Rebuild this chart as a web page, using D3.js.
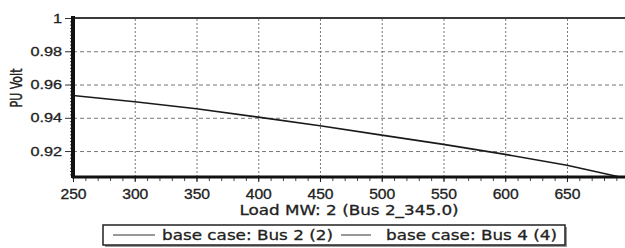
<!DOCTYPE html>
<html>
<head>
<meta charset="utf-8">
<script src="https://cdn.jsdelivr.net/npm/d3@7"></script>
<style>
  body { margin: 0; background: #fff; }
  svg { display: block; font-family: "DejaVu Sans", sans-serif; }
</style>
</head>
<body>
<div class="pv-chart"></div>
<script>
// load (MW) at bus 2 and per-unit voltages
var loadMW = [250, 300, 350, 400, 450, 500, 550, 600, 650, 692];
var bus2Volt = [0.9534, 0.9496, 0.9454, 0.9404, 0.9352, 0.9296, 0.9240, 0.9180, 0.9115, 0.9045];
var bus4Volt = [1, 1, 1, 1, 1, 1, 1, 1, 1, 1];
var seriesNames = ["base case: Bus 2 (2)", "base case: Bus 4 (4)"];
var xTicks = [250, 300, 350, 400, 450, 500, 550, 600, 650];
var yTicks = [0.92, 0.94, 0.96, 0.98, 1];

var width = 625, height = 248;
var margin = { top: 18, right: 0, bottom: 71, left: 73 };
var plotH = height - margin.top - margin.bottom;

var svg = d3.select(".pv-chart").append("svg")
    .attr("width", width)
    .attr("height", height);

var x = d3.scaleLinear().domain([250, 697]).range([margin.left, width - margin.right]);
var y = d3.scaleLinear().domain([0.9044, 1.0]).range([height - margin.bottom, margin.top]);

var stretch = 1.2;  // the original text looks wider than it is tall

// grid
svg.append("g")
    .attr("transform", "translate(0," + (height - margin.bottom) + ")")
    .call(d3.axisBottom(x).tickValues(xTicks.slice(1)).tickSize(-plotH).tickFormat(""))
    .call(function(g) { g.select(".domain").remove(); })
    .selectAll("line")
    .attr("stroke", "#777")
    .attr("stroke-dasharray", "2,2");

svg.append("g")
    .attr("transform", "translate(" + margin.left + ",0)")
    .call(d3.axisLeft(y).tickValues(yTicks.slice(0, 4)).tickSize(-(width - margin.left)).tickFormat(""))
    .call(function(g) { g.select(".domain").remove(); })
    .selectAll("line")
    .attr("stroke", "#777")
    .attr("stroke-dasharray", "4,3");

// minor ticks
svg.append("g")
    .attr("transform", "translate(0," + (height - margin.bottom) + ")")
    .call(d3.axisBottom(x).tickValues(d3.range(250, 697, 10)).tickSize(4).tickFormat(""))
    .call(function(g) { g.select(".domain").remove(); })
    .selectAll("line").attr("stroke", "#444");

svg.append("g")
    .attr("transform", "translate(" + margin.left + ",0)")
    .call(d3.axisLeft(y).tickValues(d3.range(0.906, 1.0, 0.002)).tickSize(3).tickFormat(""))
    .call(function(g) { g.select(".domain").remove(); })
    .selectAll("line").attr("stroke", "#444");

// series
var line = d3.line()
    .x(function(d) { return x(d[0]); })
    .y(function(d) { return y(d[1]); });

var series = [d3.zip(loadMW, bus2Volt), d3.zip(loadMW, bus4Volt)];
var lineStyles = [{ color: "#1a1a1a", w: 1.6 }, { color: "#3a3a3a", w: 2 }];

svg.selectAll("path.series")
    .data(series)
    .enter().append("path")
    .attr("class", "series")
    .attr("fill", "none")
    .attr("stroke", function(d, i) { return lineStyles[i].color; })
    .attr("stroke-width", function(d, i) { return lineStyles[i].w; })
    .attr("d", function(d, i) {
        // bus 4 runs along the full width of the top edge
        if (i == 1) return line([[250, d[0][1]], [697, d[0][1]]]);
        return line(d);
    });

// axes
var xAxis = svg.append("g")
    .attr("transform", "translate(0," + (height - margin.bottom) + ")")
    .call(d3.axisBottom(x).tickValues(xTicks).tickSize(5).tickPadding(7).tickFormat(d3.format("d")));
xAxis.select(".domain").remove();
xAxis.selectAll("line").attr("stroke", "#222");
xAxis.selectAll("text")
    .attr("font-size", 14)
    .attr("fill", "#222")
    .attr("stroke", "#222").attr("stroke-width", 0.3)
    .attr("transform", "scale(1.12,1)");

svg.append("line")
    .attr("x1", margin.left - 1).attr("x2", width)
    .attr("y1", height - margin.bottom).attr("y2", height - margin.bottom)
    .attr("stroke", "#111").attr("stroke-width", 3);

var yAxis = svg.append("g")
    .attr("transform", "translate(" + margin.left + ",0)")
    .call(d3.axisLeft(y).tickValues(yTicks).tickSize(8).tickFormat(function(d) { return d == 1 ? "1" : d3.format(".2f")(d); }));
yAxis.select(".domain").remove();
yAxis.selectAll("line").attr("stroke", "#333");
yAxis.selectAll("text")
    .attr("font-size", 12.5)
    .attr("fill", "#222")
    .attr("stroke", "#222").attr("stroke-width", 0.3)
    .attr("x", -11 / 1.3)
    .attr("transform", "scale(1.3,1)");

svg.append("line")
    .attr("x1", margin.left).attr("x2", margin.left)
    .attr("y1", margin.top - 2).attr("y2", height - margin.bottom + 1)
    .attr("stroke", "#111").attr("stroke-width", 4);

// axis titles
svg.append("text")
    .attr("transform", "translate(" + ((margin.left + width) / 2) + ",215) scale(" + stretch + ",1)")
    .attr("text-anchor", "middle")
    .attr("font-size", 14)
    .attr("fill", "#222")
    .attr("stroke", "#222").attr("stroke-width", 0.3)
    .text("Load MW: 2 (Bus 2_345.0)");

svg.append("text")
    .attr("transform", "translate(22,88) scale(1.4,1) rotate(-90)")
    .attr("text-anchor", "middle")
    .attr("font-size", 11)
    .attr("fill", "#222")
    .attr("stroke", "#222").attr("stroke-width", 0.3)
    .text("PU Volt");

// legend
var legend = svg.append("g");
var legendShadow = legend.append("rect").attr("fill", "#999");
var legendBox = legend.append("rect")
    .attr("fill", "#fff").attr("stroke", "#222").attr("stroke-width", 1.5);

var lx = 113;
seriesNames.forEach(function(name, i) {
    legend.append("line")
        .attr("x1", lx).attr("x2", lx + (i == 0 ? 42 : 30))
        .attr("y1", 235).attr("y2", 235)
        .attr("stroke", "#333").attr("stroke-width", 1);
    lx += (i == 0 ? 49 : 45);
    var t = legend.append("text")
        .attr("transform", "translate(" + lx + ",240) scale(" + stretch + ",1)")
        .attr("font-size", 14)
        .attr("fill", "#222")
        .attr("stroke", "#222").attr("stroke-width", 0.3)
        .text(name);
    lx += t.node().getComputedTextLength() * stretch + 8;
});

var boxW = lx - 103;
legendShadow.attr("x", 105).attr("y", 227).attr("width", boxW).attr("height", 20);
legendBox.attr("x", 103).attr("y", 225).attr("width", boxW).attr("height", 20);
</script>
</body>
</html>
